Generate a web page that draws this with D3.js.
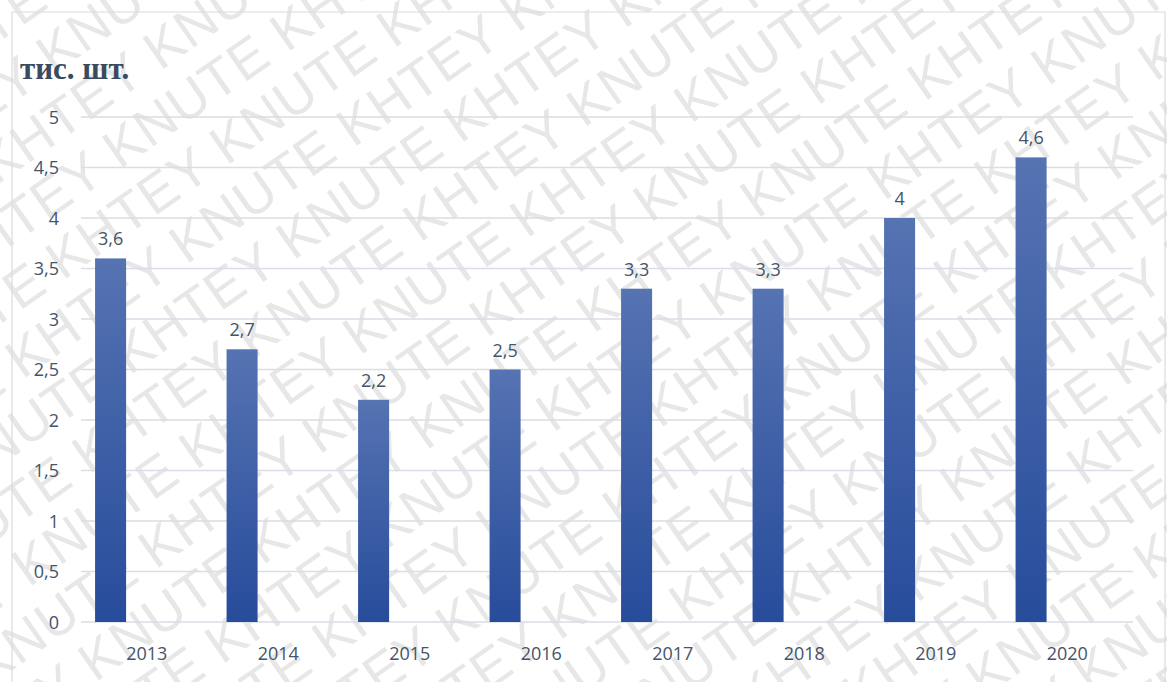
<!DOCTYPE html>
<html>
<head>
<meta charset="utf-8">
<script src="https://cdn.jsdelivr.net/npm/d3@7"></script>
<style>
  html, body { margin: 0; padding: 0; background: #fff; }
  svg { display: block; }
</style>
</head>
<body>
<svg id="chart" width="1167" height="682"></svg>
<script>
// ─── data ─────────────────────────────────────────────
const years  = ['2013','2014','2015','2016','2017','2018','2019','2020'];
const values = [3.6, 2.7, 2.2, 2.5, 3.3, 3.3, 4, 4.6];
const yTicks = [0, 0.5, 1, 1.5, 2, 2.5, 3, 3.5, 4, 4.5, 5];
const unitLabel = 'тис. шт.';
const wmWords = ['KNUTE', 'KHTEY'];

const W = 1167, H = 682;
const M = { left: 81, right: 34, top: 117, bottom: 60 };
const svg = d3.select('#chart');
const txtCol = '#44546a';
const fmt = v => String(v).replace('.', ',');

// watermark
const wm = svg.append('g').attr('transform', `translate(${W/2},${H/2}) rotate(-35)`);
const rowText = d3.range(12).map(i => wmWords[i % 2]).join(' ');
d3.range(-11, 12).forEach(r => {
  wm.append('text')
    .attr('x', -1000 + (r % 2 === 0 ? 0 : -90))
    .attr('y', r * 58)
    .attr('font-family', 'Liberation Sans Narrow, Liberation Sans, Arial, sans-serif')
    .attr('font-size', 54)
    .attr('fill', '#e7e7e7')
    .attr('letter-spacing', 1)
    .text(rowText);
});

// frame
svg.append('path')
  .attr('d', `M12,${H} V12 H1165 V${H}`)
  .attr('fill', 'none').attr('stroke', '#d6dde7').attr('stroke-width', 1.2);

const x = d3.scaleBand().domain(years).range([M.left, W - M.right]).padding(0);
const y = d3.scaleLinear().domain([0, 5]).range([622, M.top]);

// grid
svg.append('g').selectAll('line').data(yTicks).join('line')
  .attr('x1', M.left).attr('x2', W - M.right)
  .attr('y1', d => y(d)).attr('y2', d => y(d))
  .attr('stroke', '#d9dee6').attr('stroke-width', 1.3);

// y axis labels
const yAxis = d3.axisLeft(y).tickValues(yTicks).tickFormat(fmt).tickSize(0).tickPadding(0);
svg.append('g').attr('transform', `translate(59,0)`).call(yAxis)
  .call(g => g.select('.domain').remove())
  .call(g => g.selectAll('text')
    .attr('font-family', 'Open Sans, Liberation Sans, sans-serif')
    .attr('font-size', 18).attr('fill', txtCol).attr('dy', '0.35em'));

// gradient
const grad = svg.append('defs').append('linearGradient')
  .attr('id', 'barGrad').attr('x1', 0).attr('x2', 0).attr('y1', 0).attr('y2', 1);
grad.append('stop').attr('offset', '0%').attr('stop-color', '#5673b2');
grad.append('stop').attr('offset', '100%').attr('stop-color', '#274c9b');

const bw = x.bandwidth();
const barX = d => x(d) + bw * 0.107;
const barW = bw * 0.236;

svg.append('g').selectAll('rect').data(values).join('rect')
  .attr('x', (d, i) => barX(years[i]))
  .attr('y', d => y(d))
  .attr('width', barW)
  .attr('height', d => y(0) - y(d))
  .attr('fill', 'url(#barGrad)');

// value labels
svg.append('g').selectAll('text').data(values).join('text')
  .attr('x', (d, i) => barX(years[i]) + barW / 2)
  .attr('y', d => y(d) - 13)
  .attr('text-anchor', 'middle')
  .attr('font-family', 'Open Sans, Liberation Sans, sans-serif')
  .attr('font-size', 18).attr('fill', txtCol)
  .text(fmt);

// x axis labels
const xAxis = d3.axisBottom(x).tickSize(0).tickPadding(0);
svg.append('g').attr('transform', `translate(0,654)`).call(xAxis)
  .call(g => g.select('.domain').remove())
  .call(g => g.selectAll('text')
    .attr('font-family', 'Open Sans, Liberation Sans, sans-serif')
    .attr('font-size', 18).attr('fill', txtCol).attr('dy', '0.35em'));

// unit label
svg.append('text')
  .attr('x', 20).attr('y', 79)
  .attr('font-family', 'Liberation Serif, Times New Roman, serif')
  .attr('font-weight', 'bold').attr('font-size', 31)
  .attr('fill', '#3b4a5e')
  .text(unitLabel);
</script>
</body>
</html>
